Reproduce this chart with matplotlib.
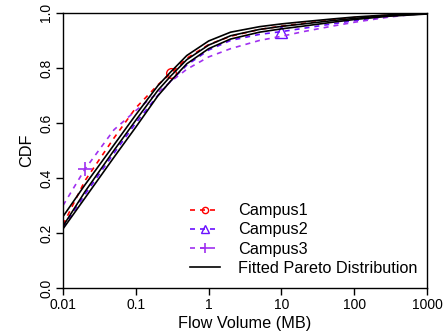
import matplotlib
matplotlib.use("Agg")
import matplotlib.pyplot as plt
import matplotlib.ticker as ticker
from matplotlib.lines import Line2D

plt.rcParams["font.family"] = ["Liberation Sans", "DejaVu Sans"]

# ── Data ──────────────────────────────────────────────────────────────────────
flow_mb = [0.01, 0.02, 0.05, 0.1, 0.2, 0.3, 0.5, 1, 2, 5, 10, 20, 50, 100, 300, 1000]

campus1 = [0.23, 0.39, 0.545, 0.655, 0.738, 0.78, 0.835, 0.885, 0.915, 0.94, 0.952, 0.962, 0.974, 0.983, 0.992, 1.0]
campus2 = [0.22, 0.34, 0.49, 0.60, 0.70, 0.752, 0.81, 0.865, 0.90, 0.922, 0.932, 0.944, 0.96, 0.972, 0.988, 1.0]
campus3 = [0.30, 0.432, 0.575, 0.645, 0.71, 0.75, 0.795, 0.84, 0.87, 0.90, 0.915, 0.932, 0.952, 0.966, 0.985, 1.0]

fit1 = [0.26, 0.375, 0.52, 0.63, 0.735, 0.785, 0.845, 0.898, 0.93, 0.95, 0.96, 0.968, 0.978, 0.985, 0.993, 0.998]
fit2 = [0.225, 0.35, 0.50, 0.61, 0.718, 0.77, 0.83, 0.883, 0.917, 0.94, 0.951, 0.96, 0.972, 0.98, 0.99, 0.997]
fit3 = [0.215, 0.327, 0.475, 0.585, 0.698, 0.752, 0.815, 0.87, 0.905, 0.93, 0.942, 0.952, 0.966, 0.976, 0.988, 0.996]

x_ticks = [0.01, 0.1, 1, 10, 100, 1000]
x_labels = ["0.01", "0.1", "1", "10", "100", "1000"]
y_ticks = [0.0, 0.2, 0.4, 0.6, 0.8, 1.0]

C1, C2, C3 = "#ff0000", "#6a10ff", "#a030f0"

# ── Plot ──────────────────────────────────────────────────────────────────────
fig = plt.figure(figsize=(4.44, 3.31), dpi=100)
ax = fig.add_axes([0.142, 0.13, 0.820, 0.831])

dash = (0, (3, 3))
ax.plot(flow_mb, campus1, color=C1, ls=dash, lw=1.2,
        marker="o", markevery=[5], ms=7, mfc="none", mew=1.0)
ax.plot(flow_mb, campus2, color=C2, ls=dash, lw=1.2,
        marker="^", markevery=[10], ms=9, mfc="none", mew=1.0)
ax.plot(flow_mb, campus3, color=C3, ls=dash, lw=1.2,
        marker="+", markevery=[1], ms=10, mew=1.2)

for fit in [fit1, fit2, fit3]:
    ax.plot(flow_mb, fit, color="black", lw=1.2)

ax.set_xscale("log")
ax.set_xlim(0.01, 1000)
ax.set_ylim(0, 1)
ax.set_xticks(x_ticks)
ax.set_xticklabels(x_labels)
ax.xaxis.set_minor_locator(ticker.NullLocator())
ax.set_yticks(y_ticks)
ax.set_yticklabels([f"{v:.1f}" for v in y_ticks], rotation=90, va="center")

ax.tick_params(axis="both", direction="out", length=5, width=1, labelsize=10, pad=2)
for s in ax.spines.values():
    s.set_linewidth(1)

ax.set_xlabel("Flow Volume (MB)", fontsize=11.7, labelpad=3)
ax.set_ylabel("CDF", fontsize=11.7, labelpad=4)

# legend uses smaller markers, like the reference
handles = [
    Line2D([], [], color=C1, ls=dash, lw=1.2, marker="o", ms=4.5, mfc="none", mew=1.0),
    Line2D([], [], color=C2, ls=dash, lw=1.2, marker="^", ms=5.5, mfc="none", mew=1.0),
    Line2D([], [], color=C3, ls=dash, lw=1.2, marker="+", ms=7, mew=1.2),
    Line2D([], [], color="black", lw=1.2),
]
labels = ["Campus1", "Campus2", "Campus3", "Fitted Pareto Distribution"]
ax.legend(handles, labels, loc="upper left", bbox_to_anchor=(0.349, 0.308),
          borderaxespad=0, borderpad=0, frameon=False, fontsize=11.7,
          handlelength=1.85, handletextpad=1.1, labelspacing=0.26)

fig.savefig("out.png", dpi=100)
